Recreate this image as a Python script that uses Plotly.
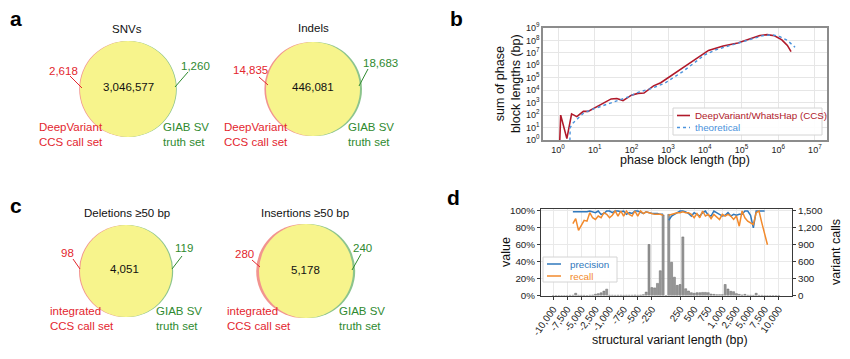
import plotly.graph_objects as go

W, H = 850, 359
OFF = 8  # the page body margin shifts the figure by this many pixels
FONT = "Liberation Sans, Arial, Helvetica, sans-serif"
RED_TXT = "#e3262e"
GREEN_TXT = "#2f8a2f"
YELLOW = "#f7f48c"
RED_FILL = "#f2948f"
GREEN_FILL = "#8cc48c"

# ---------------- panels a / c : Venn counts ----------------
venn_titles = ["SNVs", "Indels", "Deletions ≥50 bp", "Insertions ≥50 bp"]
venn_left_only = [2618, 14835, 98, 280]
venn_shared = [3046577, 446081, 4051, 5178]
venn_right_only = [1260, 18683, 119, 240]
venn_left_names = ["DeepVariant<br>CCS call set", "DeepVariant<br>CCS call set",
                   "integrated<br>CCS call set", "integrated<br>CCS call set"]
venn_right_names = ["GIAB SV<br>truth set"] * 4

# ---------------- panel b : phase blocks ----------------
ccs_block_len = [1.1, 1.18, 1.74, 2.34, 3.24, 4.9, 6.6, 9.3, 17, 28, 40, 59, 100, 150, 220,
                 400, 630, 1000, 3160, 1.0e4, 1.26e4, 3.16e4, 7.94e4, 1.58e5, 3.16e5, 5.0e5,
                 7.94e5, 1.26e6, 1.78e6, 2.24e6]
ccs_block_sum = [0.3, 100, 1.3, 126, 76, 200, 200, 355, 1000, 2000, 2150, 1480, 4000, 5600, 5900,
                 22400, 40000, 1.0e5, 1.0e6, 8.9e6, 1.58e7, 3.55e7, 6.3e7, 1.26e8, 2.5e8, 2.95e8,
                 2.4e8, 1.12e8, 4.0e7, 1.26e7]
theo_block_len = [2.09, 2.14, 2.51, 3.24, 4.9, 9.3, 20, 40, 79, 158, 316, 794, 2510, 6310, 1.0e4,
                  2.0e4, 6.3e4, 1.58e5, 3.98e5, 7.08e5, 1.12e6, 1.78e6, 2.88e6]
theo_block_sum = [0.3, 10, 22, 48, 141, 316, 708, 1413, 2818, 7080, 12600, 35500, 3.16e5, 2.5e6,
                  7.1e6, 1.78e7, 5.0e7, 1.26e8, 2.5e8, 2.8e8, 2.0e8, 1.0e8, 2.8e7]
b_tick_vals = [1, 10, 100, 1e3, 1e4, 1e5, 1e6, 1e7, 1e8, 1e9]
b_tick_text = ["10<sup>0</sup>", "10<sup>1</sup>", "10<sup>2</sup>", "10<sup>3</sup>",
               "10<sup>4</sup>", "10<sup>5</sup>", "10<sup>6</sup>", "10<sup>7</sup>",
               "10<sup>8</sup>", "10<sup>9</sup>"]

# ---------------- panel d : SV length bins ----------------
sv_bin = list(range(-40, 41))
sv_calls = [0, 0, 0, 0, 0,
            0, 3, 5, 40, 5,
            3, 3, 0, 5, 8,
            22, 33, 48, 78, 113,
            5, 5, 3, 5, 5,
            3, 5, 5, 5, 8,
            5, 8, 15, 60, 905,
            140, 135, 215, 440, 1430,
            0,
            1440, 590, 325, 180, 195,
            1040, 120, 80, 50, 40,
            50, 50, 55, 55, 50,
            25, 20, 15, 15, 15,
            195, 115, 75, 68, 33,
            20, 10, 20, 5, 5,
            3, 40, 3, 3, 0,
            0, 0, 0, 0, 0]
sv_precision = [None] * 7 + [
    99, 99, 99, 99, 99, 99, 100, 99, 98, 100, 96, 97, 100, 100, 98, 100, 100, 99,
    100, 96, 98, 97, 100, 100, 98, 97, 99, 98, 97, 97, 97, 96, 96,
    None,
    89, 94, 96, 98, 100, 100, 99, 97, 94, 98, 96, 94, 98, 100, 95, 94, 100, 98,
    96, 94, 95, 98, 94, 96, 95, 96, 96, 100, 100, 95, 80, 100, 100, 100, 100] + [None] * 5
sv_recall = [None] * 7 + [
    85, 91, 77, 84, 89, 88, 98, 92, 90, 94, 92, 98, 96, 92, 95, 100, 94, 100,
    94, 100, 96, 94, 100, 94, 100, 97, 99, 98, 97, 96, 96, 96, 95,
    None,
    95, 96, 97, 98, 98, 99, 98, 98, 96, 92, 97, 92, 100, 94, 96, 91, 96, 93,
    90, 96, 94, 96, 94, 90, 94, 82, 100, 92, 88, 86, 84, 98, 100, 86, 73, 60] + [None] * 4
d_tick_pos = [-40, -35, -30, -25, -20, -15, -10, -5, 5, 10, 15, 20, 25, 30, 35, 40]
d_tick_text = ["-10,000", "-7,500", "-5,000", "-2,500", "-1,000", "-750", "-500", "-250",
               "250", "500", "750", "1,000", "2,500", "5,000", "7,500", "10,000"]


def px(x):
    return (x - OFF) / W


def py(y):
    return 1 - (y - OFF) / H


shapes = []
annotations = []


def ann(text, x, y, size=11, color="#111", xanchor="center", yanchor="middle",
        angle=0, align="center", bold=False):
    if bold:
        text = "<b>" + text + "</b>"
    annotations.append(dict(text=text, x=px(x), y=py(y), xref="paper", yref="paper",
                            showarrow=False, xanchor=xanchor, yanchor=yanchor,
                            textangle=angle, align=align,
                            font=dict(family=FONT, size=size, color=color)))


def circle(cx, cy, r, fill):
    shapes.append(dict(type="circle", xref="paper", yref="paper",
                       x0=px(cx - r), x1=px(cx + r), y0=py(cy + r), y1=py(cy - r),
                       fillcolor=fill, line=dict(width=0), layer="above"))


def seg(x0, y0, x1, y1, color, width=1, dash="solid"):
    shapes.append(dict(type="line", xref="paper", yref="paper",
                       x0=px(x0), y0=py(y0), x1=px(x1), y1=py(y1),
                       line=dict(color=color, width=width, dash=dash), layer="above"))


# Venn geometry (pixel layout)
venn_geom = [
    dict(cx=128, cy=89, r=48, dl=0.8, dr=0.8, title=(127, 29), mid=(128, 87),
         lc=(63, 71), ll=(70, 76, 82, 88), rc=(195, 66), rl=(188, 72, 175, 87),
         lx=37, rx=161, ly=134.5),
    dict(cx=313, cy=89, r=47, dl=1.6, dr=2.0, title=(313, 28), mid=(313, 87),
         lc=(250, 70), ll=(259, 77, 268, 85), rc=(380, 63), rl=(368, 69, 359, 86),
         lx=222, rx=346, ly=134.5),
    dict(cx=126, cy=271, r=46, dl=1.0, dr=1.2, title=(127, 213), mid=(124, 269),
         lc=(67, 253), ll=(73, 259, 80, 269), rc=(184, 248), rl=(182, 256, 172, 269),
         lx=48, rx=154, ly=318),
    dict(cx=306, cy=271, r=47, dl=2.8, dr=2.2, title=(305, 213), mid=(305, 270),
         lc=(244, 254), ll=(252, 260, 260, 267), rc=(362, 248), rl=(361, 254, 352, 270),
         lx=225, rx=337, ly=318),
]

for i, g in enumerate(venn_geom):
    circle(g["cx"] - g["dl"], g["cy"], g["r"], RED_FILL)
    circle(g["cx"] + g["dr"], g["cy"], g["r"], GREEN_FILL)
    circle(g["cx"], g["cy"], g["r"], YELLOW)
    ann(venn_titles[i], *g["title"], size=11.5)
    ann(f"{venn_shared[i]:,}", *g["mid"], size=11.5)
    ann(f"{venn_left_only[i]:,}", *g["lc"], size=11.5, color=RED_TXT)
    ann(f"{venn_right_only[i]:,}", *g["rc"], size=11.5, color=GREEN_TXT)
    seg(*g["ll"], RED_TXT)
    seg(*g["rl"], GREEN_TXT)
    ann(venn_left_names[i], g["lx"], g["ly"], size=11.5, color=RED_TXT,
        xanchor="left", align="left")
    ann(venn_right_names[i], g["rx"], g["ly"], size=11.5, color=GREEN_TXT,
        xanchor="left", align="left")

# panel letters
ann("a", 16, 19, size=21, color="#000", bold=True)
ann("b", 457, 18, size=21, color="#000", bold=True)
ann("c", 16, 205, size=21, color="#000", bold=True)
ann("d", 454, 197, size=21, color="#000", bold=True)

fig = go.Figure()

# ---------------- panel b traces ----------------
DV_RED = "#b0192a"
TH_BLUE = "#4b93dc"
fig.add_trace(go.Scatter(x=ccs_block_len, y=ccs_block_sum, mode="lines",
                         line=dict(color=DV_RED, width=1.6), xaxis="x", yaxis="y",
                         name="DeepVariant/WhatsHap (CCS)", showlegend=False))
fig.add_trace(go.Scatter(x=theo_block_len, y=theo_block_sum, mode="lines",
                         line=dict(color=TH_BLUE, width=1.4, dash="dot"), xaxis="x", yaxis="y",
                         name="theoretical", showlegend=False))

# ---------------- panel d traces ----------------
PREC = "#2f78bd"
REC = "#f28a2c"
fig.add_trace(go.Bar(x=sv_bin, y=sv_calls, xaxis="x2", yaxis="y2", width=0.72,
                     marker=dict(color="#999999", line=dict(color="#666666", width=0.5)),
                     showlegend=False, name="variant calls"))
fig.add_trace(go.Scatter(x=sv_bin, y=[None if v is None else v / 100 for v in sv_precision],
                         mode="lines", line=dict(color=PREC, width=1.5), xaxis="x2", yaxis="y3",
                         name="precision", showlegend=False, connectgaps=False))
fig.add_trace(go.Scatter(x=sv_bin, y=[None if v is None else v / 100 for v in sv_recall],
                         mode="lines", line=dict(color=REC, width=1.5), xaxis="x2", yaxis="y3",
                         name="recall", showlegend=False, connectgaps=False))

# manual legends
shapes.append(dict(type="rect", xref="paper", yref="paper", x0=px(673), x1=px(822),
                   y0=py(135), y1=py(108), fillcolor="rgba(255,255,255,0.92)",
                   line=dict(color="#d4d4d4", width=1), layer="above"))
seg(677, 115.5, 690, 115.5, DV_RED, 1.6)
seg(677, 127.5, 690, 127.5, TH_BLUE, 1.4, "dot")
ann("DeepVariant/WhatsHap (CCS)", 693, 115.5, size=9.8, color=DV_RED, xanchor="left")
ann("theoretical", 693, 127.5, size=9.8, color=TH_BLUE, xanchor="left")
shapes.append(dict(type="rect", xref="paper", yref="paper", x0=px(543), x1=px(617),
                   y0=py(282), y1=py(257), fillcolor="rgba(255,255,255,0.92)",
                   line=dict(color="#d4d4d4", width=1), layer="above"))
seg(547, 264, 561, 264, PREC, 1.5)
seg(547, 276, 561, 276, REC, 1.5)
ann("precision", 568, 264, size=9.8, color=PREC, xanchor="left")
ann("recall", 568, 276, size=9.8, color=REC, xanchor="left")

# axis titles
ann("sum of phase<br>block lengths (bp)", 508, 84, size=12.5, color="#111", angle=-90)
ann("phase block length (bp)", 685, 160, size=12.5, color="#111")
ann("value", 506, 252, size=12.5, color="#111", angle=-90)
ann("variant calls", 836, 252, size=12.5, color="#111", angle=-90)
ann("structural variant length (bp)", 670, 340, size=12.5, color="#111")

frame_b = dict(showline=True, mirror=True, linecolor="#8c8c8c", linewidth=1.5,
               gridcolor="#e6e6e6", gridwidth=0.8, zeroline=False, ticks="",
               automargin=False,
               tickfont=dict(family=FONT, size=9, color="#222"))
frame_d = dict(showline=True, mirror=True, linecolor="#3a3a3a", linewidth=1,
               gridcolor="#e9e9e9", gridwidth=0.8, zeroline=False, ticks="outside",
               ticklen=3, tickcolor="#3a3a3a", automargin=False,
               tickfont=dict(family=FONT, size=9.8, color="#222"))

fig.update_layout(
    width=W, height=H, autosize=False,
    margin=dict(l=0, r=0, t=0, b=0, pad=0, autoexpand=False),
    paper_bgcolor="white", plot_bgcolor="rgba(0,0,0,0)",
    showlegend=False,
    font=dict(family=FONT, size=11, color="#111"),
    xaxis=dict(domain=[px(543), px(827)], anchor="y", type="log", range=[-0.41, 7.33],
               tickvals=b_tick_vals[:8], ticktext=b_tick_text[:8], **frame_b),
    yaxis=dict(domain=[py(140), py(28)], anchor="x", type="log", range=[0, 9],
               tickvals=b_tick_vals, ticktext=b_tick_text, **frame_b),
    xaxis2=dict(domain=[px(541), px(792)], anchor="y2", range=[-44.3, 44.7],
                tickvals=d_tick_pos, ticktext=d_tick_text, tickangle=-55, **frame_d),
    yaxis2=dict(domain=[py(295.5), py(209.3)], anchor="x2", side="right", range=[0, 1530],
                tickvals=[0, 300, 600, 900, 1200, 1500], tickformat=",", **frame_d),
    yaxis3=dict(overlaying="y2", anchor="x2", side="left", range=[0, 1.02],
                tickvals=[0, 0.2, 0.4, 0.6, 0.8, 1.0], tickformat=".0%", showgrid=False,
                showline=True, linecolor="#3a3a3a", linewidth=1, zeroline=False,
                ticks="outside", ticklen=3, tickcolor="#3a3a3a", automargin=False,
                tickfont=dict(family=FONT, size=9.8, color="#222")),
    bargap=0.2,
    shapes=shapes,
    annotations=annotations,
)

fig.write_html("out.html")
